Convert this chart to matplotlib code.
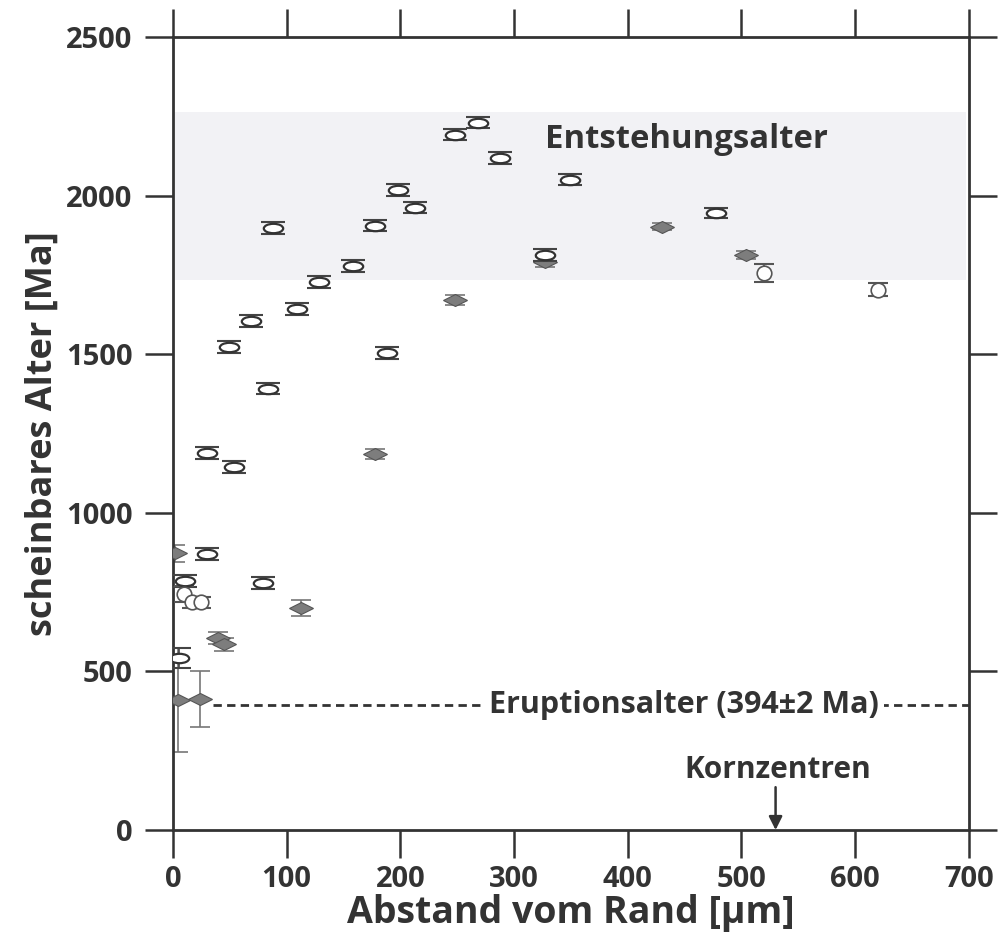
import matplotlib
matplotlib.use("Agg")
import matplotlib.pyplot as plt
from matplotlib.markers import MarkerStyle
from matplotlib.transforms import Affine2D

plt.rcParams['font.family'] = ['Open Sans', 'DejaVu Sans']

# open elliptical markers (x in um, age in Ma, error)
open_x = [11, 30, 5, 30, 49, 54, 69, 79, 84, 88, 109, 128, 158, 178, 188, 198, 213, 248, 268, 288, 327, 349, 478]
open_y = [785, 870, 542, 1189, 1523, 1145, 1605, 779, 1391, 1898, 1643, 1728, 1778, 1905, 1504, 2018, 1962, 2192, 2230, 2119, 1813, 2050, 1945]
open_err = [18, 18, 32, 18, 18, 18, 18, 18, 18, 18, 18, 18, 18, 18, 18, 18, 18, 18, 18, 18, 18, 18, 15]

# open round markers
round_x = [10, 17, 25, 520, 620]
round_y = [745, 718, 718, 1756, 1703]
round_err = [25, 18, 18, 27, 20]

# filled diamonds
fill_x = [2, 4, 24, 40, 45, 113, 178, 248, 327, 430, 504]
fill_y = [872, 410, 413, 605, 585, 700, 1186, 1671, 1790, 1902, 1813]
fill_err = [28, 164, 88, 20, 20, 25, 15, 15, 15, 12, 12]

eruption_age = 394
band = (1735, 2265)
core_x = 532

dark = '#333333'

fig = plt.figure(figsize=(10.04, 9.43), dpi=100)
ax = fig.add_axes([0.1723, 0.1198, 0.7927, 0.841])

ax.axhspan(band[0], band[1], xmin=0.003, xmax=0.997, color='#f2f2f5', zorder=0, lw=0)

ell = MarkerStyle('o', transform=Affine2D().scale(1.55, 0.75))
dia = MarkerStyle('D', transform=Affine2D().scale(1.4, 0.75))

ax.errorbar(fill_x, fill_y, yerr=fill_err, fmt='none', ecolor='#777777', elinewidth=1.2,
            capsize=7, capthick=1.2, zorder=2)
ax.plot(fill_x, fill_y, ls='none', marker=dia, ms=8.5, mfc='#7d7d7d', mec='#555555', mew=0.8, zorder=3)

ax.errorbar(open_x, open_y, yerr=open_err, fmt='none', ecolor='#444444', elinewidth=1.2,
            capsize=8.5, capthick=1.5, zorder=4)
ax.plot(open_x, open_y, ls='none', marker=ell, ms=9, mfc='white', mec=dark, mew=1.6, zorder=5)

ax.errorbar(round_x, round_y, yerr=round_err, fmt='none', ecolor='#555555', elinewidth=1.2,
            capsize=7, capthick=1.5, zorder=4)
ax.plot(round_x, round_y, ls='none', marker='o', ms=10.5, mfc='white', mec='#555555', mew=1.2, zorder=5)

# eruption age line
ax.plot([35, 700], [eruption_age, eruption_age], color=dark, lw=2, dashes=(3, 1.9), zorder=1)
ax.text(449, eruption_age, 'Eruptionsalter (394±2 Ma)', ha='center', va='center', fontsize=22,
        fontweight='bold', color=dark, bbox=dict(fc='white', ec='none', pad=4), zorder=2)

ax.text(452, 2176, 'Entstehungsalter', ha='center', va='center', fontsize=23.7,
        fontweight='bold', color=dark)

ax.annotate('', xy=(core_x - 2, 0), xytext=(core_x - 2, 135),
            arrowprops=dict(arrowstyle='-|>', color=dark, lw=1.8, mutation_scale=20,
                            shrinkA=0, shrinkB=0))
ax.text(core_x, 190, 'Kornzentren', ha='center', va='center', fontsize=21.5,
        fontweight='bold', color=dark)

ax.set_xlim(0, 700)
ax.set_ylim(0, 2500)
ax.set_xticks(range(0, 701, 100))
ax.set_yticks(range(0, 2501, 500))
ax.tick_params(axis='both', direction='out', length=20, width=1.8, color=dark,
               labelsize=21, labelcolor=dark, top=True, right=True)
ax.tick_params(axis='y', pad=9)
ax.tick_params(axis='x', pad=5)
for lab in ax.get_xticklabels() + ax.get_yticklabels():
    lab.set_fontweight('bold')
for sp in ax.spines.values():
    sp.set_linewidth(2)
    sp.set_color(dark)

ax.set_xlabel('Abstand vom Rand [µm]', fontsize=27, fontweight='bold', color=dark, labelpad=0)
ax.set_ylabel('scheinbares Alter [Ma]', fontsize=26, fontweight='bold', color=dark, labelpad=4)

fig.savefig('out.png', dpi=100)
